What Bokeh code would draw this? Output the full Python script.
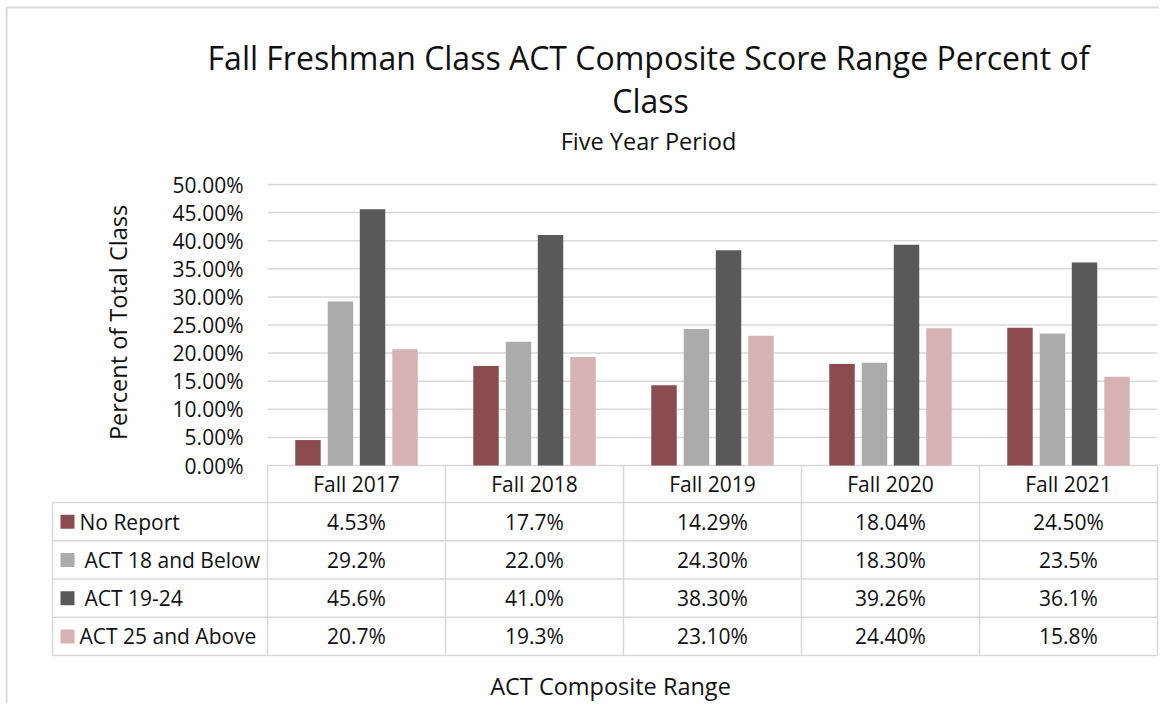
import math
from bokeh.plotting import figure
from bokeh.models import Range1d, ColumnDataSource
from bokeh.transform import dodge
from bokeh.embed import file_html
from bokeh.resources import INLINE
from bokeh.core.properties import value

# ---------------- data ----------------
years = ["Fall 2017", "Fall 2018", "Fall 2019", "Fall 2020", "Fall 2021"]
series_names = ["No Report", "ACT 18 and Below", "ACT 19-24", "ACT 25 and Above"]

no_report = [4.53, 17.7, 14.29, 18.04, 24.50]
act_18_below = [29.2, 22.0, 24.30, 18.30, 23.5]
act_19_24 = [45.6, 41.0, 38.30, 39.26, 36.1]
act_25_above = [20.7, 19.3, 23.10, 24.40, 15.8]

no_report_labels = ["4.53%", "17.7%", "14.29%", "18.04%", "24.50%"]
act_18_below_labels = ["29.2%", "22.0%", "24.30%", "18.30%", "23.5%"]
act_19_24_labels = ["45.6%", "41.0%", "38.30%", "39.26%", "36.1%"]
act_25_above_labels = ["20.7%", "19.3%", "23.10%", "24.40%", "15.8%"]

y_ticks = [0.0, 0.05, 0.10, 0.15, 0.20, 0.25, 0.30, 0.35, 0.40, 0.45, 0.50]

title_line1 = "Fall Freshman Class ACT Composite Score Range Percent of"
title_line2 = "Class"
subtitle = "Five Year Period"
y_label = "Percent of Total Class"
x_label = "ACT Composite Range"

# ---------------- style / layout ----------------
FONT = "Open Sans"
TXT = "#111111"
GRID = "#D9D9D9"
colors = ["#8C4B4F", "#ABABAB", "#595959", "#D6B2B2"]
offsets = [-0.2725, -0.09, 0.09, 0.2725]
BAR_W = 0.143

W, H = 1159, 703          # canvas size in px
PLOT_LEFT = 267           # px of first category column
COL_W = 178.0             # px per category column
ZERO_Y = 465              # px of the 0 % line
PX_PER_UNIT = 562.0       # px per 1.0 (=100 %)
TABLE_LEFT = 52
HEADER_BOTTOM = 502
ROW_H = 38.25

n = len(years)
nrows = len(series_names)

p = figure(width=W, height=H, output_backend="svg", toolbar_location=None,
           x_range=Range1d(-PLOT_LEFT / COL_W, (W - PLOT_LEFT) / COL_W),
           y_range=Range1d(-(H - ZERO_Y) / PX_PER_UNIT, ZERO_Y / PX_PER_UNIT),
           x_axis_location=None, y_axis_location=None,
           min_border=0, outline_line_color=None)
p.extra_x_ranges = {"px": Range1d(0, W)}
p.extra_y_ranges = {"px": Range1d(H, 0)}
p.grid.visible = False

# ---- outer chart border (top and left edges visible) ----
p.segment(x0=[6, 6], y0=[7, 7], x1=[W, 6], y1=[7, H], line_color=GRID, line_width=2,
          x_range_name="px", y_range_name="px")

# ---- titles ----
p.text(x=[648], y=[57], text=[title_line1], text_align="center", text_baseline="middle",
       text_font=value(FONT), text_font_size="32px", text_color=TXT,
       x_range_name="px", y_range_name="px")
p.text(x=[650], y=[100], text=[title_line2], text_align="center", text_baseline="middle",
       text_font=value(FONT), text_font_size="32px", text_color=TXT,
       x_range_name="px", y_range_name="px")
p.text(x=[648], y=[140], text=[subtitle], text_align="center", text_baseline="middle",
       text_font=value(FONT), text_font_size="23.5px", text_color=TXT,
       x_range_name="px", y_range_name="px")

# ---- value gridlines and tick labels ----
p.segment(x0=[0] * len(y_ticks), x1=[n] * len(y_ticks), y0=y_ticks, y1=y_ticks,
          line_color=GRID, line_width=1.5)
p.text(x=[243] * len(y_ticks), y=y_ticks, text=[f"{t:.2%}" for t in y_ticks],
       text_align="right", text_baseline="middle", text_font=value(FONT),
       text_font_size="21px", text_color=TXT, x_range_name="px")
p.text(x=[117], y=[322], text=[y_label], angle=math.pi / 2, text_align="center",
       text_baseline="middle", text_font=value(FONT), text_font_size="23.5px",
       text_color=TXT, x_range_name="px", y_range_name="px")

# ---- bars ----
src = ColumnDataSource(dict(
    xpos=[i + 0.5 for i in range(n)],
    no_report=[v / 100 for v in no_report],
    act_18_below=[v / 100 for v in act_18_below],
    act_19_24=[v / 100 for v in act_19_24],
    act_25_above=[v / 100 for v in act_25_above],
))
keys = ["no_report", "act_18_below", "act_19_24", "act_25_above"]
for key, off, col in zip(keys, offsets, colors):
    p.vbar(x=dodge("xpos", off), top=key, bottom=0, width=BAR_W, source=src,
           fill_color=col, line_color=None)

# ---- data table ----
row_bounds = [HEADER_BOTTOM + ROW_H * k for k in range(nrows + 1)]
table_bottom = row_bounds[-1]
right_px = PLOT_LEFT + COL_W * n
# horizontal rules
p.segment(x0=[TABLE_LEFT] * len(row_bounds), x1=[right_px] * len(row_bounds),
          y0=row_bounds, y1=row_bounds, line_color=GRID, line_width=1.5,
          x_range_name="px", y_range_name="px")
# vertical rules
p.segment(x0=[TABLE_LEFT], x1=[TABLE_LEFT], y0=[HEADER_BOTTOM], y1=[table_bottom],
          line_color=GRID, line_width=1.5, x_range_name="px", y_range_name="px")
p.segment(x0=list(range(n + 1)), x1=list(range(n + 1)), y0=[ZERO_Y] * (n + 1),
          y1=[table_bottom] * (n + 1), line_color=GRID, line_width=1.5, y_range_name="px")

# header (category labels)
p.text(x=[i + 0.5 for i in range(n)], y=[(ZERO_Y + HEADER_BOTTOM) / 2] * n, text=years,
       text_align="center", text_baseline="middle", text_font=value(FONT),
       text_font_size="21px", text_color=TXT, y_range_name="px")

# cells
row_centers = [HEADER_BOTTOM + ROW_H * (r + 0.5) for r in range(nrows)]
all_labels = [no_report_labels, act_18_below_labels, act_19_24_labels, act_25_above_labels]
for rc, labs in zip(row_centers, all_labels):
    p.text(x=[i + 0.5 for i in range(n)], y=[rc] * n, text=labs,
           text_align="center", text_baseline="middle", text_font=value(FONT),
           text_font_size="21px", text_color=TXT, y_range_name="px")

# legend keys and series names
p.scatter(x=[67] * nrows, y=row_centers, marker="square", size=14,
          fill_color=colors, line_color=None, x_range_name="px", y_range_name="px")
p.text(x=[79, 84, 84, 79], y=row_centers, text=series_names,
       text_align="left", text_baseline="middle", text_font=value(FONT),
       text_font_size="21px", text_color=TXT, x_range_name="px", y_range_name="px")

# category axis title
p.text(x=[610], y=[685], text=[x_label], text_align="center", text_baseline="middle",
       text_font=value(FONT), text_font_size="23.5px", text_color=TXT,
       x_range_name="px", y_range_name="px")

open("out.html", "w").write(file_html(p, INLINE))
